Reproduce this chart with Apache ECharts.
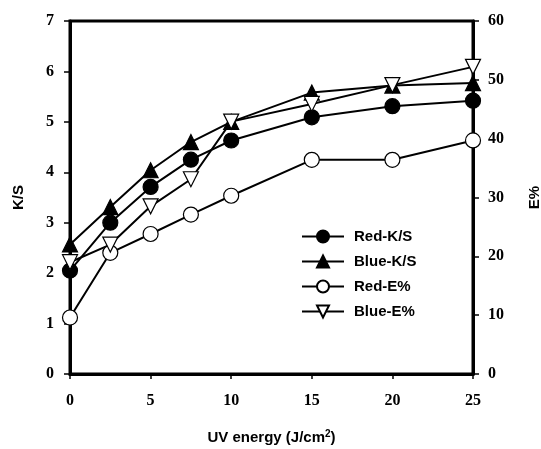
<!DOCTYPE html>
<html>
<head>
<meta charset="utf-8">
<script src="https://cdn.jsdelivr.net/npm/echarts@6/dist/echarts.min.js"></script>
<style>
  html, body { margin: 0; padding: 0; background: #fff; }
  #chart { width: 541px; height: 449px; }
</style>
</head>
<body>
<div id="chart"></div>
<script>
// UV energy (J/cm2)
var uvEnergy = [0, 2.5, 5, 7.5, 10, 15, 20, 25];
// K/S values (left axis)
var redKS = [2.05, 3.0, 3.71, 4.25, 4.63, 5.09, 5.31, 5.42];
var blueKS = [2.57, 3.31, 4.04, 4.6, 5.0, 5.58, 5.72, 5.77];
// E% values (right axis)
var redE = [9.6, 20.6, 23.8, 27.1, 30.3, 36.4, 36.4, 39.7];
var blueE = [19.0, 22.0, 28.5, 33.1, 42.9, 45.9, 49.1, 52.2];

var seriesNames = ['Red-K/S', 'Blue-K/S', 'Red-E%', 'Blue-E%'];

function pairs(ys) {
	return uvEnergy.map(function(x, i) {
		return [x, ys[i]];
	});
}

var tickFont = {
	color: '#000',
	fontFamily: 'Liberation Serif',
	fontWeight: 'bold',
	fontSize: 16
};
var nameFont = {
	color: '#000',
	fontFamily: 'Liberation Sans',
	fontWeight: 'bold',
	fontSize: 15
};

function mkSeries(name, data, axisIdx, symbol, filled, rotate) {
	return {
		name: name,
		type: 'line',
		yAxisIndex: axisIdx,
		data: pairs(data),
		symbol: symbol,
		symbolSize: 15,
		symbolRotate: rotate || 0,
		showAllSymbol: true,
		lineStyle: { color: '#000', width: 2 },
		itemStyle: {
			color: filled ? '#000' : '#fff',
			borderColor: '#000',
			borderWidth: 1.2
		},
		emphasis: { disabled: true },
		z: 3
	};
}

var myChart = echarts.init(document.getElementById('chart'));
var option = {
	animation: false,
	backgroundColor: '#fff',
	grid: {
		left: 70,
		right: 68,
		top: 21,
		bottom: 75,
		outerBoundsMode: 'none',
		containLabel: false,
		show: true,
		borderColor: '#000',
		borderWidth: 3,
		backgroundColor: 'transparent'
	},
	legend: {
		orient: 'vertical',
		left: 301,
		top: 229,
		padding: 0,
		itemWidth: 42,
		itemHeight: 15,
		itemGap: 10,
		data: seriesNames,
		textStyle: {
			color: '#000',
			fontFamily: 'Liberation Sans',
			fontWeight: 'bold',
			fontSize: 15,
			padding: [0, 0, 0, 5]
		}
	},
	xAxis: {
		type: 'value',
		min: 0,
		max: 25,
		interval: 5,
		name: '{n|UV energy (J/cm}{s|2}{n|)}',
		nameLocation: 'middle',
		nameGap: 55,
		nameTextStyle: {
			rich: {
				n: nameFont,
				s: {
					color: '#000',
					fontFamily: 'Liberation Sans',
					fontWeight: 'bold',
					fontSize: 10,
					verticalAlign: 'top',
					padding: [0, 0, 8, 0]
				}
			}
		},
		axisLine: { lineStyle: { color: '#000', width: 3 } },
		axisTick: { inside: false, length: 5, lineStyle: { color: '#000', width: 1.5 } },
		axisLabel: Object.assign({ margin: 19 }, tickFont),
		splitLine: { show: false }
	},
	yAxis: [{
		type: 'value',
		position: 'left',
		min: 0,
		max: 7,
		interval: 1,
		name: 'K/S',
		nameLocation: 'middle',
		nameGap: 44,
		nameTextStyle: nameFont,
		axisLine: { show: true, lineStyle: { color: '#000', width: 3 } },
		axisTick: { show: true, inside: false, length: 6, lineStyle: { color: '#000', width: 1.5 } },
		axisLabel: Object.assign({ margin: 16 }, tickFont),
		splitLine: { show: false }
	}, {
		type: 'value',
		position: 'right',
		min: 0,
		max: 60,
		interval: 10,
		name: 'E%',
		nameLocation: 'middle',
		nameGap: 54,
		nameRotate: 90,
		nameTextStyle: nameFont,
		axisLine: { show: true, lineStyle: { color: '#000', width: 3 } },
		axisTick: { show: true, inside: false, length: 6, lineStyle: { color: '#000', width: 1.5 } },
		axisLabel: Object.assign({ margin: 15 }, tickFont),
		splitLine: { show: false }
	}],
	series: [
		mkSeries('Red-K/S', redKS, 0, 'circle', true),
		mkSeries('Blue-K/S', blueKS, 0, 'triangle', true),
		mkSeries('Red-E%', redE, 1, 'circle', false),
		mkSeries('Blue-E%', blueE, 1, 'triangle', false, 180)
	]
};
myChart.setOption(option);
</script>
</body>
</html>
